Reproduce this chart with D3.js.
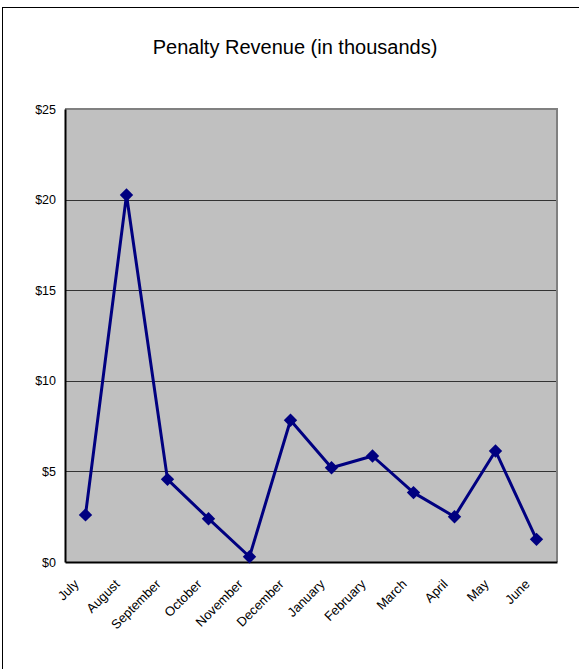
<!DOCTYPE html>
<html><head><meta charset="utf-8">
<script src="https://cdn.jsdelivr.net/npm/d3@7"></script>
<style>body{margin:0;background:#fff}svg{display:block}</style>
</head><body>
<script>
const months = ["July","August","September","October","November","December","January","February","March","April","May","June"];
const revenue = [2.6, 20.25, 4.56, 2.39, 0.29, 7.82, 5.2, 5.85, 3.83, 2.5, 6.13, 1.25];
const yTicks = [0, 5, 10, 15, 20, 25];
const title = "Penalty Revenue (in thousands)";

const W = 579, H = 669;
const FONT = "Liberation Sans, Arial, sans-serif";
const svg = d3.select("body").append("svg").attr("width", W).attr("height", H);
svg.append("rect").attr("width", W).attr("height", H).attr("fill", "#fff");
// outer frame (top & left visible)
svg.append("line").attr("x1", 2).attr("x2", W).attr("y1", 7.5).attr("y2", 7.5).attr("stroke", "#000").attr("stroke-width", 1);
svg.append("line").attr("x1", 2.5).attr("x2", 2.5).attr("y1", 7).attr("y2", H).attr("stroke", "#000").attr("stroke-width", 1);

const L = 65, R = 557, T = 109, B = 562;
const x = d3.scaleBand().domain(months).range([L, R]);
const y = d3.scaleLinear().domain([0, 25]).range([B, T]);

svg.append("text").attr("x", 295).attr("y", 54).attr("text-anchor", "middle")
  .attr("font-family", FONT).attr("font-size", 20).text(title);

svg.append("rect").attr("x", L).attr("y", T).attr("width", R - L).attr("height", B - T).attr("fill", "#c0c0c0");

// gridlines
svg.append("g").selectAll("line").data(yTicks.filter(d => d > 0 && d < 25)).join("line")
  .attr("x1", L).attr("x2", R).attr("y1", d => Math.round(y(d)) + 0.5).attr("y2", d => Math.round(y(d)) + 0.5)
  .attr("stroke", "#333").attr("stroke-width", 1.2);

// plot border top/right gray
svg.append("path").attr("d", `M${L},${T}H${R}V${B}`).attr("fill", "none").attr("stroke", "#808080").attr("stroke-width", 2);

// y axis
const yAxis = d3.axisLeft(y).tickValues(yTicks).tickSize(0).tickPadding(9).tickFormat(d => "$" + d);
const gy = svg.append("g").attr("transform", `translate(${L},0)`).call(yAxis);
gy.select(".domain").attr("stroke", "#000").attr("stroke-width", 2);
gy.selectAll("text").attr("font-family", FONT).attr("font-size", 12.5).attr("fill", "#000");

// x axis
const xAxis = d3.axisBottom(x).tickSize(0).tickPadding(0);
const gx = svg.append("g").attr("transform", `translate(0,${B})`).call(xAxis);
gx.select(".domain").attr("stroke", "#000").attr("stroke-width", 2);
gx.selectAll("text").attr("font-family", FONT).attr("font-size", 13).attr("fill", "#000")
  .attr("text-anchor", "end").attr("dy", 0).attr("transform", "translate(-6,23) rotate(-45)");

// line
const cx = (i) => x(months[i]) + x.bandwidth() / 2;
const line = d3.line().x((d, i) => cx(i)).y(d => y(d));
svg.append("path").datum(revenue).attr("d", line).attr("fill", "none").attr("stroke", "#000080").attr("stroke-width", 3).attr("stroke-linejoin", "round");

// markers
svg.append("g").selectAll("path").data(revenue).join("path")
  .attr("d", d3.symbol(d3.symbolSquare, 90)())
  .attr("transform", (d, i) => `translate(${cx(i)},${y(d)}) rotate(45)`)
  .attr("fill", "#000080");
</script>
</body></html>
